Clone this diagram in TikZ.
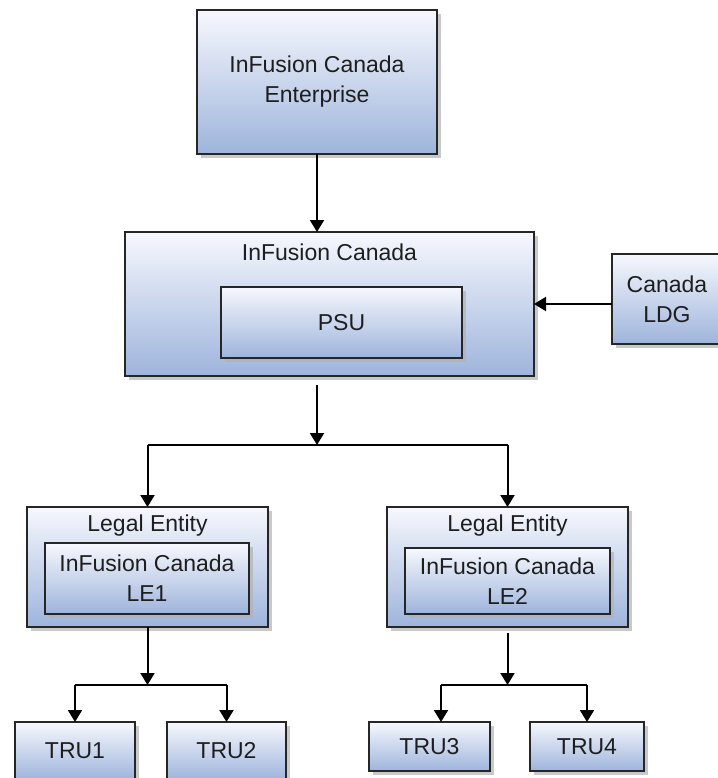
\documentclass[tikz,border=0pt]{standalone}
\usepackage{fontspec}
\setmainfont{Liberation Sans}
\usetikzlibrary{arrows.meta,shadows}
\definecolor{boxtop}{RGB}{246,248,253}
\definecolor{boxbot}{RGB}{158,180,220}
\definecolor{inktext}{RGB}{30,30,30}

\begin{document}
\begin{tikzpicture}[x=0.5pt,y=-0.5pt]
  \tikzset{unit/.style={draw=black!85,line width=1.2pt,top color=boxtop,bottom color=boxbot,
      drop shadow={shadow xshift=2pt,shadow yshift=-2pt,fill=black!30,opacity=.7},
      inner sep=0pt,outer sep=0pt,align=center,text=inktext,font=\fontsize{11.5}{15}\selectfont},
    caption/.style={inner sep=0pt,text=inktext,font=\fontsize{11.5}{15}\selectfont},
    flow/.style={line width=1pt,-{Triangle[length=6pt,width=7pt]}}}
  \useasboundingbox (0,0) rectangle (718,778);
  % enterprise and business unit
  \node[unit,minimum width=120pt,minimum height=72pt] (ent) at (317,82) {InFusion Canada\\Enterprise};
  \node[unit,minimum width=204.5pt,minimum height=72pt] (ifc) at (329.5,304) {};
  \node[caption] (ifctext) at (329.5,252) {InFusion Canada};
  \node[unit,minimum width=120.5pt,minimum height=35.5pt] (psu) at (341.5,322.5) {PSU};
  \node[unit,minimum width=55pt,minimum height=45pt] (ldg) at (667,299) {Canada\\LDG};
  % legal entities
  \node[unit,minimum width=120.5pt,minimum height=60pt] (le1) at (147.5,567) {};
  \node[caption] (le1text) at (147.5,526) {Legal Entity};
  \node[unit,minimum width=102pt,minimum height=35.5pt] (le1in) at (147,578.5) {InFusion Canada\\LE1};
  \node[unit,minimum width=120.5pt,minimum height=60pt] (le2) at (507.5,567) {};
  \node[caption] (le2text) at (507.5,526) {Legal Entity};
  \node[unit,minimum width=102.5pt,minimum height=33pt] (le2in) at (507.5,581) {InFusion Canada\\LE2};
  % tax reporting units
  \node[unit,minimum width=60pt,minimum height=29pt] (tru1) at (75,751) {TRU1};
  \node[unit,minimum width=59.5pt,minimum height=29pt] (tru2) at (226.5,751) {TRU2};
  \node[unit,minimum width=60.5pt,minimum height=24.5pt] (tru3) at (429.5,746.5) {TRU3};
  \node[unit,minimum width=57pt,minimum height=24.5pt] (tru4) at (587,746.5) {TRU4};
  % connectors
  \coordinate (fork) at (317,445);
  \coordinate (fork1) at (147.5,685);
  \coordinate (fork2) at (507.5,685);
  \coordinate (br3) at (441,685);
  \draw[flow] (ent.south) -- (ent.south |- ifc.north);
  \draw[flow] (ldg.west |- ifc.east) -- (ifc.east);
  \draw[flow,shorten <=4.5pt] (ifc.south -| fork) -- (fork);
  \draw[line width=1pt] (le1.north |- fork) -- (le2.north |- fork);
  \draw[flow] (le1.north |- fork) -- (le1.north);
  \draw[flow] (le2.north |- fork) -- (le2.north);
  \draw[flow] (le1.south) -- (fork1);
  \draw[line width=1pt] (tru1.north |- fork1) -- (tru2.north |- fork1);
  \draw[flow] (tru1.north |- fork1) -- (tru1.north);
  \draw[flow] (tru2.north |- fork1) -- (tru2.north);
  \draw[flow,shorten <=3pt] (le2.south) -- (fork2);
  \draw[line width=1pt] (br3) -- (tru4.north |- fork2);
  \draw[flow] (br3) -- (br3 |- tru3.north);
  \draw[flow] (tru4.north |- fork2) -- (tru4.north);
\end{tikzpicture}
\end{document}
